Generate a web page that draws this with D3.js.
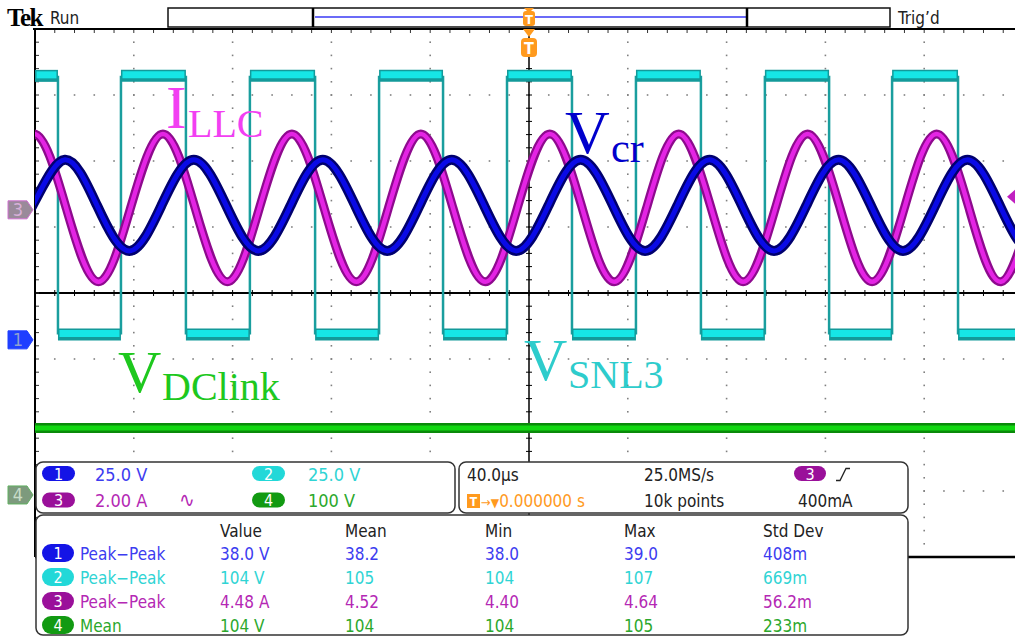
<!DOCTYPE html>
<meta charset="utf-8">
<style>
body { margin: 0; background: #fff; }
svg { display: block; }
text { font-family: "DejaVu Sans Condensed", "DejaVu Sans", sans-serif; font-stretch: condensed; }
.lbl { font-family: "Liberation Serif", "Times New Roman", serif; font-stretch: normal; }
</style>
<svg width="1015" height="636"></svg>
<script src="https://d3js.org/d3.v7.min.js"></script>
<script>
// 40 us/div, trigger at centre, 8 vertical divisions
var timeDomain = [-200, 200];
var divDomain = [-4, 4];

// ch2 V_SNL3 square wave: segment start (us) and level (V)
var ch2T = [-200, -190.7, -165.2, -138.9, -113.0, -86.6, -60.7, -34.8, -8.9, 17.4, 43.3, 69.6, 95.5, 121.5, 147.0, 173.7, 199.2];
var ch2V = [100, 2, 100, 2, 100, 2, 100, 2, 100, 2, 100, 2, 100, 2, 100, 2, 100];

// ch3 I_LLC keypoints (us, A): peaks, zero crossings, troughs
var ch3T = [-213.5, -200.4, -187.4, -174.3, -161.3, -148.2, -135.2, -122.1, -109.1, -96.0, -83.0, -69.9, -56.9, -43.8, -30.8, -17.7, -4.7, 8.4, 21.5, 34.5, 47.6, 60.6, 73.7, 86.7, 99.8, 112.8, 125.9, 138.9, 152.0, 165.0, 178.1, 191.1, 204.2, 217.2];
var ch3A = [0.06, 2.30, 0.06, -2.18, 0.06, 2.30, 0.06, -2.18, 0.06, 2.30, 0.06, -2.18, 0.06, 2.30, 0.06, -2.18, 0.06, 2.30, 0.06, -2.18, 0.06, 2.30, 0.06, -2.18, 0.06, 2.30, 0.06, -2.18, 0.06, 2.30, 0.06, -2.18, 0.06, 2.30];

// ch1 V_cr keypoints (us, V)
var ch1T = [-214.0, -201.0, -187.9, -174.9, -161.8, -148.8, -135.7, -122.6, -109.6, -96.5, -83.5, -70.4, -57.4, -44.3, -31.3, -18.2, -5.2, 7.9, 20.9, 34.0, 47.0, 60.1, 73.1, 86.2, 99.2, 112.3, 125.3, 138.4, 151.4, 164.5, 177.5, 190.6, 203.6, 216.7];
var ch1V = [33.7, 50.9, 68.2, 50.9, 33.7, 50.9, 68.2, 50.9, 33.7, 50.9, 68.2, 50.9, 33.7, 50.9, 68.2, 50.9, 33.7, 50.9, 68.2, 50.9, 33.7, 50.9, 68.2, 50.9, 33.7, 50.9, 68.2, 50.9, 33.7, 50.9, 68.2, 50.9, 33.7, 50.9];

// ch4 V_DClink
var ch4T = [-200, 200];
var ch4V = [101.5, 101.5];

// channel settings: units per div, ground marker position (div)
var chNames = ["1", "2", "3", "4"];
var chPerDiv = [25, 25, 2, 100];
var chOffset = [-0.71, -0.71, 1.26, -3.06];
var chScaleText = ["25.0 V", "25.0 V", "2.00 A", "100 V"];

// measurement table
var measCols = ["Value", "Mean", "Min", "Max", "Std Dev"];
var measNames = ["Peak\u2212Peak", "Peak\u2212Peak", "Peak\u2212Peak", "Mean"];
var measRows = [
  ["38.0 V", "38.2", "38.0", "39.0", "408m"],
  ["104 V", "105", "104", "107", "669m"],
  ["4.48 A", "4.52", "4.40", "4.64", "56.2m"],
  ["104 V", "104", "104", "105", "233m"]
];

var badgeFill = ["#1414e6", "#22d8d8", "#9a109a", "#129a12"];
var textFill = ["#3c3cf0", "#30d4d4", "#b428b4", "#2ca82c"];

var svg = d3.select("svg");
var plot = {left: 35, top: 29, right: 1023, bottom: 557};
var x = d3.scaleLinear().domain(timeDomain).range([plot.left, plot.right]);
var yDiv = d3.scaleLinear().domain(divDomain).range([plot.bottom, plot.top]);
function yCh(c, v) { return yDiv(v / chPerDiv[c] + chOffset[c]); }

svg.append("defs").append("clipPath").attr("id", "clip")
  .append("rect").attr("x", plot.left).attr("y", plot.top)
  .attr("width", plot.right - plot.left).attr("height", plot.bottom - plot.top);

// ---- graticule
var grid = svg.append("g");
var minorX = d3.range(timeDomain[0], timeDomain[1] + 0.01, 8);
var minorY = d3.range(divDomain[0], divDomain[1] + 0.01, 0.2);
var majorX = d3.range(-160, 161, 40).filter(d => d !== 0);
var majorY = d3.range(-3, 4, 1).filter(d => d !== 0);
majorX.forEach(function(t) {
  grid.selectAll(null).data(minorY.slice(1, -1)).enter().append("rect")
    .attr("x", x(t) - 0.8).attr("y", d => yDiv(d) - 0.8)
    .attr("width", 1.6).attr("height", 1.6).attr("fill", "#808080");
});
majorY.forEach(function(v) {
  grid.selectAll(null).data(minorX.slice(1, -1)).enter().append("rect")
    .attr("x", d => x(d) - 0.8).attr("y", yDiv(v) - 0.8)
    .attr("width", 1.6).attr("height", 1.6).attr("fill", "#808080");
});
// centre lines with ticks
grid.append("line").attr("x1", plot.left).attr("x2", 1015)
  .attr("y1", yDiv(0)).attr("y2", yDiv(0)).attr("stroke", "#000").attr("stroke-width", 2);
grid.append("line").attr("x1", x(0)).attr("x2", x(0))
  .attr("y1", plot.top).attr("y2", plot.bottom).attr("stroke", "#000").attr("stroke-width", 1.5);
grid.selectAll(null).data(minorX).enter().append("line")
  .attr("x1", d => x(d)).attr("x2", d => x(d))
  .attr("y1", yDiv(0) - 3).attr("y2", yDiv(0) + 3).attr("stroke", "#000");
grid.selectAll(null).data(minorY).enter().append("line")
  .attr("x1", x(0) - 3).attr("x2", x(0) + 3)
  .attr("y1", d => yDiv(d)).attr("y2", d => yDiv(d)).attr("stroke", "#000");
// border ticks
grid.selectAll(null).data(minorX).enter().append("line")
  .attr("x1", d => x(d)).attr("x2", d => x(d))
  .attr("y1", plot.top).attr("y2", plot.top + 4).attr("stroke", "#333");
grid.selectAll(null).data(minorY).enter().append("line")
  .attr("x1", plot.left).attr("x2", plot.left + 4)
  .attr("y1", d => yDiv(d)).attr("y2", d => yDiv(d)).attr("stroke", "#333");
grid.append("line").attr("x1", plot.left - 2).attr("x2", 1015)
  .attr("y1", plot.top).attr("y2", plot.top).attr("stroke", "#000").attr("stroke-width", 2);
grid.append("line").attr("x1", plot.left).attr("x2", plot.left)
  .attr("y1", plot.top).attr("y2", plot.bottom).attr("stroke", "#000").attr("stroke-width", 2);
grid.append("line").attr("x1", plot.left).attr("x2", 1015)
  .attr("y1", plot.bottom).attr("y2", plot.bottom).attr("stroke", "#000").attr("stroke-width", 2.5);

// ---- traces
var traces = svg.append("g").attr("clip-path", "url(#clip)");

// ch4 DC link band
var line4 = d3.line().x(d => x(d[0])).y(d => yCh(3, d[1]));
var ch4 = d3.zip(ch4T, ch4V);
traces.append("path").datum(ch4).attr("d", line4).attr("fill", "none")
  .attr("stroke", "#0a8a0a").attr("stroke-width", 10);
traces.append("path").datum(ch4).attr("d", line4).attr("fill", "none")
  .attr("stroke", "#12d812").attr("stroke-width", 5);

// ch2 square wave
var segs = ch2T.map(function(t, i) {
  return {t0: t, t1: i < ch2T.length - 1 ? ch2T[i + 1] : timeDomain[1] + 10, v: ch2V[i], prev: i > 0 ? ch2V[i - 1] : null};
});
traces.selectAll(null).data(segs.filter(d => d.prev !== null)).enter().append("line")
  .attr("x1", d => x(d.t0)).attr("x2", d => x(d.t0))
  .attr("y1", d => yCh(1, d.prev)).attr("y2", d => yCh(1, d.v))
  .attr("stroke", "#1a9e9e").attr("stroke-width", 2.5);
traces.selectAll(null).data(segs).enter().append("line")
  .attr("x1", d => x(d.t0)).attr("x2", d => x(d.t1))
  .attr("y1", d => yCh(1, d.v)).attr("y2", d => yCh(1, d.v))
  .attr("stroke", "#139a9a").attr("stroke-width", 12);
traces.selectAll(null).data(segs).enter().append("line")
  .attr("x1", d => x(d.t0) + 1.5).attr("x2", d => x(d.t1) - 1.5)
  .attr("y1", d => yCh(1, d.v) - 1).attr("y2", d => yCh(1, d.v) - 1)
  .attr("stroke", "#16e6e6").attr("stroke-width", 7);

// ch3 I_LLC
var line3 = d3.line().curve(d3.curveNatural).x(d => x(d[0])).y(d => yCh(2, d[1]));
var ch3 = d3.zip(ch3T, ch3A);
traces.append("path").datum(ch3).attr("d", line3).attr("fill", "none")
  .attr("stroke", "#8e0a8e").attr("stroke-width", 9);
traces.append("path").datum(ch3).attr("d", line3).attr("fill", "none")
  .attr("stroke", "#e424e4").attr("stroke-width", 4.5);

// ch1 V_cr
var line1 = d3.line().curve(d3.curveNatural).x(d => x(d[0])).y(d => yCh(0, d[1]));
var ch1 = d3.zip(ch1T, ch1V);
traces.append("path").datum(ch1).attr("d", line1).attr("fill", "none")
  .attr("stroke", "#00006e").attr("stroke-width", 10);
traces.append("path").datum(ch1).attr("d", line1).attr("fill", "none")
  .attr("stroke", "#0a0ae6").attr("stroke-width", 5);

// ---- signal labels
function label(main, sub, x0, yb, ys, fsMain, fsSub, col, subX) {
  var g = svg.append("g").attr("fill", col).attr("class", "lbl");
  g.append("text").attr("class", "lbl").attr("x", x0).attr("y", yb).style("font-size", fsMain + "px").text(main);
  g.append("text").attr("class", "lbl").attr("x", subX).attr("y", ys).style("font-size", fsSub + "px").text(sub);
}
label("I", "LLC", 166, 128, 137, 62, 40, "#f23ff2", 188);
label("V", "cr", 565, 153, 162, 62, 42, "#0000cc", 611);
label("V", "DClink", 118, 392, 400, 60, 40, "#1ec81e", 162);
label("V", "SNL3", 524, 380, 388, 60, 40, "#2ecccc", 568);

// ---- left ground markers
var markers = [
  {ch: 2, fill: "#9a8a9a", stroke: "#d070d0", txt: "#d8b0d8"},
  {ch: 0, fill: "#1f3fff", stroke: "#1f3fff", txt: "#8fa0d0"},
  {ch: 3, fill: "#7d9a7d", stroke: "#60b060", txt: "#c8dcc8"}
];
markers.forEach(function(m) {
  var yc = yDiv(chOffset[m.ch]);
  svg.append("path")
    .attr("d", "M8," + (yc - 9) + "H27L33," + yc + "L27," + (yc + 9) + "H8Z")
    .attr("fill", m.fill).attr("stroke", m.stroke).attr("stroke-width", 1);
  svg.append("text").attr("x", 18).attr("y", yc + 6.5).attr("text-anchor", "middle")
    .style("font-size", "18px").attr("fill", m.txt).text(chNames[m.ch]);
});
// trigger level marker (ch3, 400mA)
var trigY = yCh(2, 0.4);
svg.append("path").attr("d", "M1015," + (trigY - 7) + "L1007," + trigY + "L1015," + (trigY + 7) + "Z")
  .attr("fill", "#c020c0");

// ---- top bar
svg.append("text").attr("x", 7).attr("y", 26).attr("class", "lbl")
  .style("font-size", "25px").style("font-weight", "bold").style("letter-spacing", "-1.5px").text("Tek");
svg.append("text").attr("x", 50).attr("y", 24).style("font-size", "17px").attr("fill", "#222").text("Run");
svg.append("text").attr("x", 898).attr("y", 24).style("font-size", "17px").attr("fill", "#222").text("Trig\u2019d");
svg.append("rect").attr("x", 168).attr("y", 8).attr("width", 722).attr("height", 19)
  .attr("fill", "#fff").attr("stroke", "#111").attr("stroke-width", 1.5);
svg.append("line").attr("x1", 315).attr("x2", 746).attr("y1", 17).attr("y2", 17)
  .attr("stroke", "#3a3af5").attr("stroke-width", 1.5);
[313, 747].forEach(function(bx) {
  svg.append("line").attr("x1", bx).attr("x2", bx).attr("y1", 8).attr("y2", 27)
    .attr("stroke", "#000").attr("stroke-width", 2.5);
});
var orange = "#ff9a1e";
svg.append("path").attr("d", "M524,8L534,8L529,13Z").attr("fill", orange);
svg.append("rect").attr("x", 523).attr("y", 11).attr("width", 12).attr("height", 15).attr("rx", 3).attr("fill", orange);
svg.append("text").attr("x", 529).attr("y", 24).attr("text-anchor", "middle")
  .style("font-size", "13px").style("font-weight", "bold").attr("fill", "#fff").text("T");
svg.append("path").attr("d", "M523,29L535,29L529,37Z").attr("fill", orange);
svg.append("rect").attr("x", 521).attr("y", 38).attr("width", 16).attr("height", 19).attr("rx", 4).attr("fill", orange);
svg.append("text").attr("x", 529).attr("y", 54).attr("text-anchor", "middle")
  .style("font-size", "16px").style("font-weight", "bold").attr("fill", "#fff").text("T");

// ---- info panels
function panel(x0, y0, w, h) {
  svg.append("rect").attr("x", x0).attr("y", y0).attr("width", w).attr("height", h)
    .attr("rx", 7).attr("fill", "#fff").attr("stroke", "#333").attr("stroke-width", 1.5);
}
function badge(x0, yc, w, h, c) {
  svg.append("rect").attr("x", x0).attr("y", yc - h / 2).attr("width", w).attr("height", h)
    .attr("rx", h / 2).attr("fill", badgeFill[c]);
  svg.append("text").attr("x", x0 + w / 2).attr("y", yc + 6).attr("text-anchor", "middle")
    .style("font-size", "16px").attr("fill", "#fff").text(chNames[c]);
}
function txt(x0, yb, s, col) {
  return svg.append("text").attr("x", x0).attr("y", yb).style("font-size", "17px").attr("fill", col).text(s);
}
panel(36, 462, 419, 51);
panel(459, 462, 449, 51);
panel(36, 515, 872, 120);

var chPanel = [{c: 0, bx: 42, tx: 95, yc: 473.5, yb: 481}, {c: 1, bx: 252, tx: 308, yc: 473.5, yb: 481},
               {c: 2, bx: 42, tx: 95, yc: 500, yb: 507}, {c: 3, bx: 252, tx: 308, yc: 500, yb: 507}];
chPanel.forEach(function(p) {
  badge(p.bx, p.yc, 33, 15, p.c);
  txt(p.tx, p.yb, chScaleText[p.c], textFill[p.c]).style("font-size", "18px");
});
txt(179, 507, "\u223f", textFill[2]).style("font-size", "21px");

txt(467, 481, "40.0\u00b5s", "#222");
txt(644, 481, "25.0MS/s", "#222");
badge(794, 473.5, 32, 15, 2);
svg.append("path").attr("d", "M836,480.5H840L846,468.5H850").attr("fill", "none").attr("stroke", "#222").attr("stroke-width", 1.3);
svg.append("rect").attr("x", 467).attr("y", 494).attr("width", 13).attr("height", 14).attr("fill", orange);
svg.append("text").attr("x", 473.5).attr("y", 506).attr("text-anchor", "middle")
  .style("font-size", "12px").style("font-weight", "bold").attr("fill", "#fff").text("T");
var tp = txt(481, 507, "", orange);
tp.append("tspan").style("font-size", "13px").text("\u2192");
tp.append("tspan").style("font-size", "12px").text("\u25bc");
tp.append("tspan").text("0.000000 s");
txt(644, 507, "10k points", "#222");
txt(798, 507, "400mA", "#222");

// measurement table
var colX = [220, 345, 485, 624, 763];
measCols.forEach(function(h, i) { txt(colX[i], 537, h, "#222"); });
measRows.forEach(function(row, r) {
  var yc = 553 + r * 24, yb = 560 + r * 24;
  badge(42, yc, 32, 18, r);
  txt(80, yb, measNames[r], textFill[r]);
  row.forEach(function(v, i) { txt(colX[i], yb, v, textFill[r]); });
});
</script>
